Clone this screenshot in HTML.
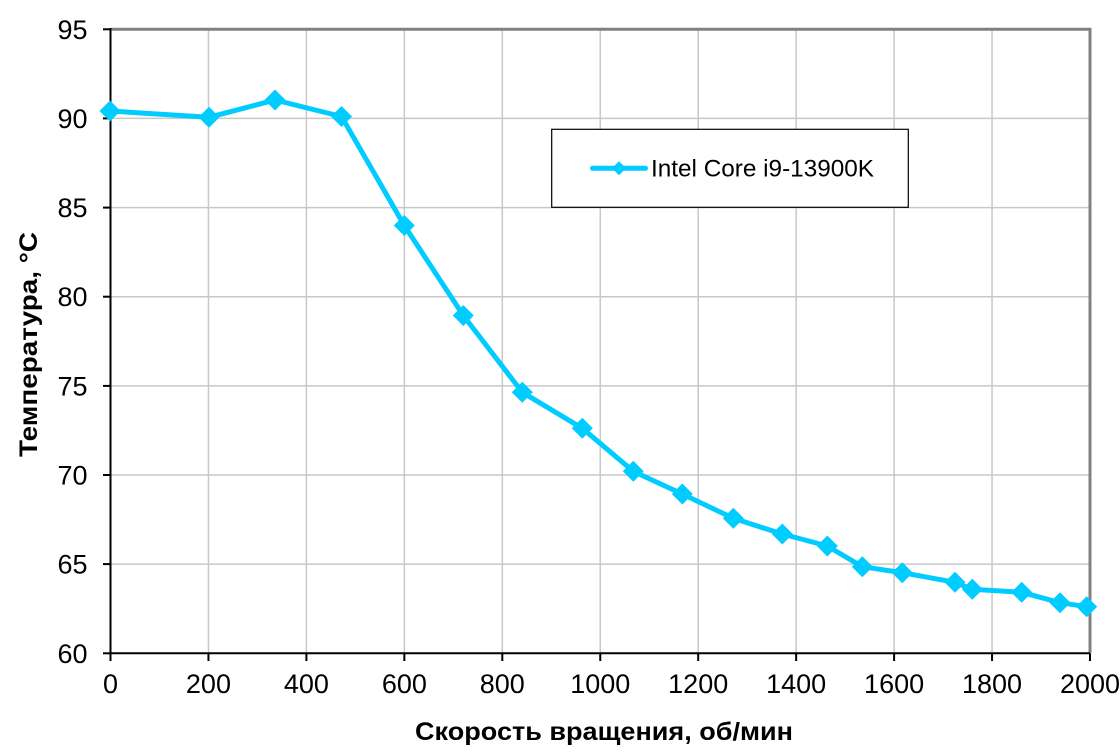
<!DOCTYPE html>
<html>
<head>
<meta charset="utf-8">
<style>
html,body{margin:0;padding:0;background:#fff;}
svg{display:block;}
text{font-family:"Liberation Sans",Arial,sans-serif;fill:#000;}
</style>
</head>
<body>
<svg width="1120" height="752" viewBox="0 0 1120 752" xmlns="http://www.w3.org/2000/svg">
<rect x="0" y="0" width="1120" height="752" fill="#fff"/>
<!-- grid -->
<g stroke="#c8c8c8" stroke-width="1.5">
<line x1="208.45" y1="29.3" x2="208.45" y2="653.3"/>
<line x1="306.4" y1="29.3" x2="306.4" y2="653.3"/>
<line x1="404.35" y1="29.3" x2="404.35" y2="653.3"/>
<line x1="502.3" y1="29.3" x2="502.3" y2="653.3"/>
<line x1="600.25" y1="29.3" x2="600.25" y2="653.3"/>
<line x1="698.2" y1="29.3" x2="698.2" y2="653.3"/>
<line x1="796.15" y1="29.3" x2="796.15" y2="653.3"/>
<line x1="894.1" y1="29.3" x2="894.1" y2="653.3"/>
<line x1="992.05" y1="29.3" x2="992.05" y2="653.3"/>
<line x1="110.5" y1="118.4" x2="1090" y2="118.4"/>
<line x1="110.5" y1="207.6" x2="1090" y2="207.6"/>
<line x1="110.5" y1="296.7" x2="1090" y2="296.7"/>
<line x1="110.5" y1="385.9" x2="1090" y2="385.9"/>
<line x1="110.5" y1="475" x2="1090" y2="475"/>
<line x1="110.5" y1="564.1" x2="1090" y2="564.1"/>
</g>
<!-- top/right border -->
<g stroke="#808080" stroke-width="3">
<line x1="110.5" y1="29.3" x2="1091.5" y2="29.3"/>
<line x1="1090" y1="29.3" x2="1090" y2="653.3"/>
</g>
<!-- axes -->
<g stroke="#000" stroke-width="2">
<line x1="110.5" y1="28" x2="110.5" y2="654"/>
<line x1="110" y1="653.3" x2="1090" y2="653.3"/>
<line x1="103" y1="29.3" x2="110.5" y2="29.3"/>
<line x1="103" y1="118.4" x2="110.5" y2="118.4"/>
<line x1="103" y1="207.6" x2="110.5" y2="207.6"/>
<line x1="103" y1="296.7" x2="110.5" y2="296.7"/>
<line x1="103" y1="385.9" x2="110.5" y2="385.9"/>
<line x1="103" y1="475" x2="110.5" y2="475"/>
<line x1="103" y1="564.1" x2="110.5" y2="564.1"/>
<line x1="103" y1="653.3" x2="110.5" y2="653.3"/>
<line x1="110.5" y1="653.3" x2="110.5" y2="661"/>
<line x1="208.45" y1="653.3" x2="208.45" y2="661"/>
<line x1="306.4" y1="653.3" x2="306.4" y2="661"/>
<line x1="404.35" y1="653.3" x2="404.35" y2="661"/>
<line x1="502.3" y1="653.3" x2="502.3" y2="661"/>
<line x1="600.25" y1="653.3" x2="600.25" y2="661"/>
<line x1="698.2" y1="653.3" x2="698.2" y2="661"/>
<line x1="796.15" y1="653.3" x2="796.15" y2="661"/>
<line x1="894.1" y1="653.3" x2="894.1" y2="661"/>
<line x1="992.05" y1="653.3" x2="992.05" y2="661"/>
<line x1="1090" y1="653.3" x2="1090" y2="661"/>
</g>
<!-- y tick labels -->
<g font-size="27" text-anchor="end">
<text x="87.5" y="38.8">95</text>
<text x="87.5" y="127.9">90</text>
<text x="87.5" y="217.1">85</text>
<text x="87.5" y="306.2">80</text>
<text x="87.5" y="395.4">75</text>
<text x="87.5" y="484.5">70</text>
<text x="87.5" y="573.6">65</text>
<text x="87.5" y="662.8">60</text>
</g>
<!-- x tick labels -->
<g font-size="27" text-anchor="middle">
<text x="110.5" y="693">0</text>
<text x="208.45" y="693">200</text>
<text x="306.4" y="693">400</text>
<text x="404.35" y="693">600</text>
<text x="502.3" y="693">800</text>
<text x="600.25" y="693">1000</text>
<text x="698.2" y="693">1200</text>
<text x="796.15" y="693">1400</text>
<text x="894.1" y="693">1600</text>
<text x="992.05" y="693">1800</text>
<text x="1090" y="693">2000</text>
</g>
<!-- axis titles -->
<text x="415" y="740" font-size="25" font-weight="bold" textLength="378" lengthAdjust="spacingAndGlyphs">Скорость вращения, об/мин</text>
<text transform="translate(37,457) rotate(-90)" x="0" y="0" font-size="25" font-weight="bold" textLength="225" lengthAdjust="spacingAndGlyphs">Температура, °C</text>
<!-- series -->
<polyline fill="none" stroke="#00ccff" stroke-width="5" stroke-linejoin="round" points="110,111 209,117.3 275,100 341.5,116.5 404.3,225.5 463.3,315.5 522.3,392.3 582.3,428.3 633.3,471.3 682.3,494 733.3,518.3 782.3,534 827.3,546 862.3,566.7 902.3,572.7 955,582.3 972.3,589.3 1021.7,592.3 1060,602.7 1086.7,606.7"/>
<g fill="#00ccff">
<path d="M0,-10.5 L10.5,0 L0,10.5 L-10.5,0 Z" transform="translate(110,111)"/>
<path d="M0,-10.5 L10.5,0 L0,10.5 L-10.5,0 Z" transform="translate(209,117.3)"/>
<path d="M0,-10.5 L10.5,0 L0,10.5 L-10.5,0 Z" transform="translate(275,100)"/>
<path d="M0,-10.5 L10.5,0 L0,10.5 L-10.5,0 Z" transform="translate(341.5,116.5)"/>
<path d="M0,-10.5 L10.5,0 L0,10.5 L-10.5,0 Z" transform="translate(404.3,225.5)"/>
<path d="M0,-10.5 L10.5,0 L0,10.5 L-10.5,0 Z" transform="translate(463.3,315.5)"/>
<path d="M0,-10.5 L10.5,0 L0,10.5 L-10.5,0 Z" transform="translate(522.3,392.3)"/>
<path d="M0,-10.5 L10.5,0 L0,10.5 L-10.5,0 Z" transform="translate(582.3,428.3)"/>
<path d="M0,-10.5 L10.5,0 L0,10.5 L-10.5,0 Z" transform="translate(633.3,471.3)"/>
<path d="M0,-10.5 L10.5,0 L0,10.5 L-10.5,0 Z" transform="translate(682.3,494)"/>
<path d="M0,-10.5 L10.5,0 L0,10.5 L-10.5,0 Z" transform="translate(733.3,518.3)"/>
<path d="M0,-10.5 L10.5,0 L0,10.5 L-10.5,0 Z" transform="translate(782.3,534)"/>
<path d="M0,-10.5 L10.5,0 L0,10.5 L-10.5,0 Z" transform="translate(827.3,546)"/>
<path d="M0,-10.5 L10.5,0 L0,10.5 L-10.5,0 Z" transform="translate(862.3,566.7)"/>
<path d="M0,-10.5 L10.5,0 L0,10.5 L-10.5,0 Z" transform="translate(902.3,572.7)"/>
<path d="M0,-10.5 L10.5,0 L0,10.5 L-10.5,0 Z" transform="translate(955,582.3)"/>
<path d="M0,-10.5 L10.5,0 L0,10.5 L-10.5,0 Z" transform="translate(972.3,589.3)"/>
<path d="M0,-10.5 L10.5,0 L0,10.5 L-10.5,0 Z" transform="translate(1021.7,592.3)"/>
<path d="M0,-10.5 L10.5,0 L0,10.5 L-10.5,0 Z" transform="translate(1060,602.7)"/>
<path d="M0,-10.5 L10.5,0 L0,10.5 L-10.5,0 Z" transform="translate(1086.7,606.7)"/>
</g>
<!-- legend -->
<rect x="551.7" y="129.3" width="356.6" height="78" fill="#fff" stroke="#000" stroke-width="1.2"/>
<line x1="592.5" y1="168.3" x2="645.5" y2="168.3" stroke="#00ccff" stroke-width="5" stroke-linecap="round"/>
<path d="M0,-7 L7,0 L0,7 L-7,0 Z" transform="translate(619,168.3)" fill="#00ccff"/>
<text x="651" y="176.5" font-size="24" textLength="223" lengthAdjust="spacingAndGlyphs">Intel Core i9-13900K</text>
</svg>
</body>
</html>
